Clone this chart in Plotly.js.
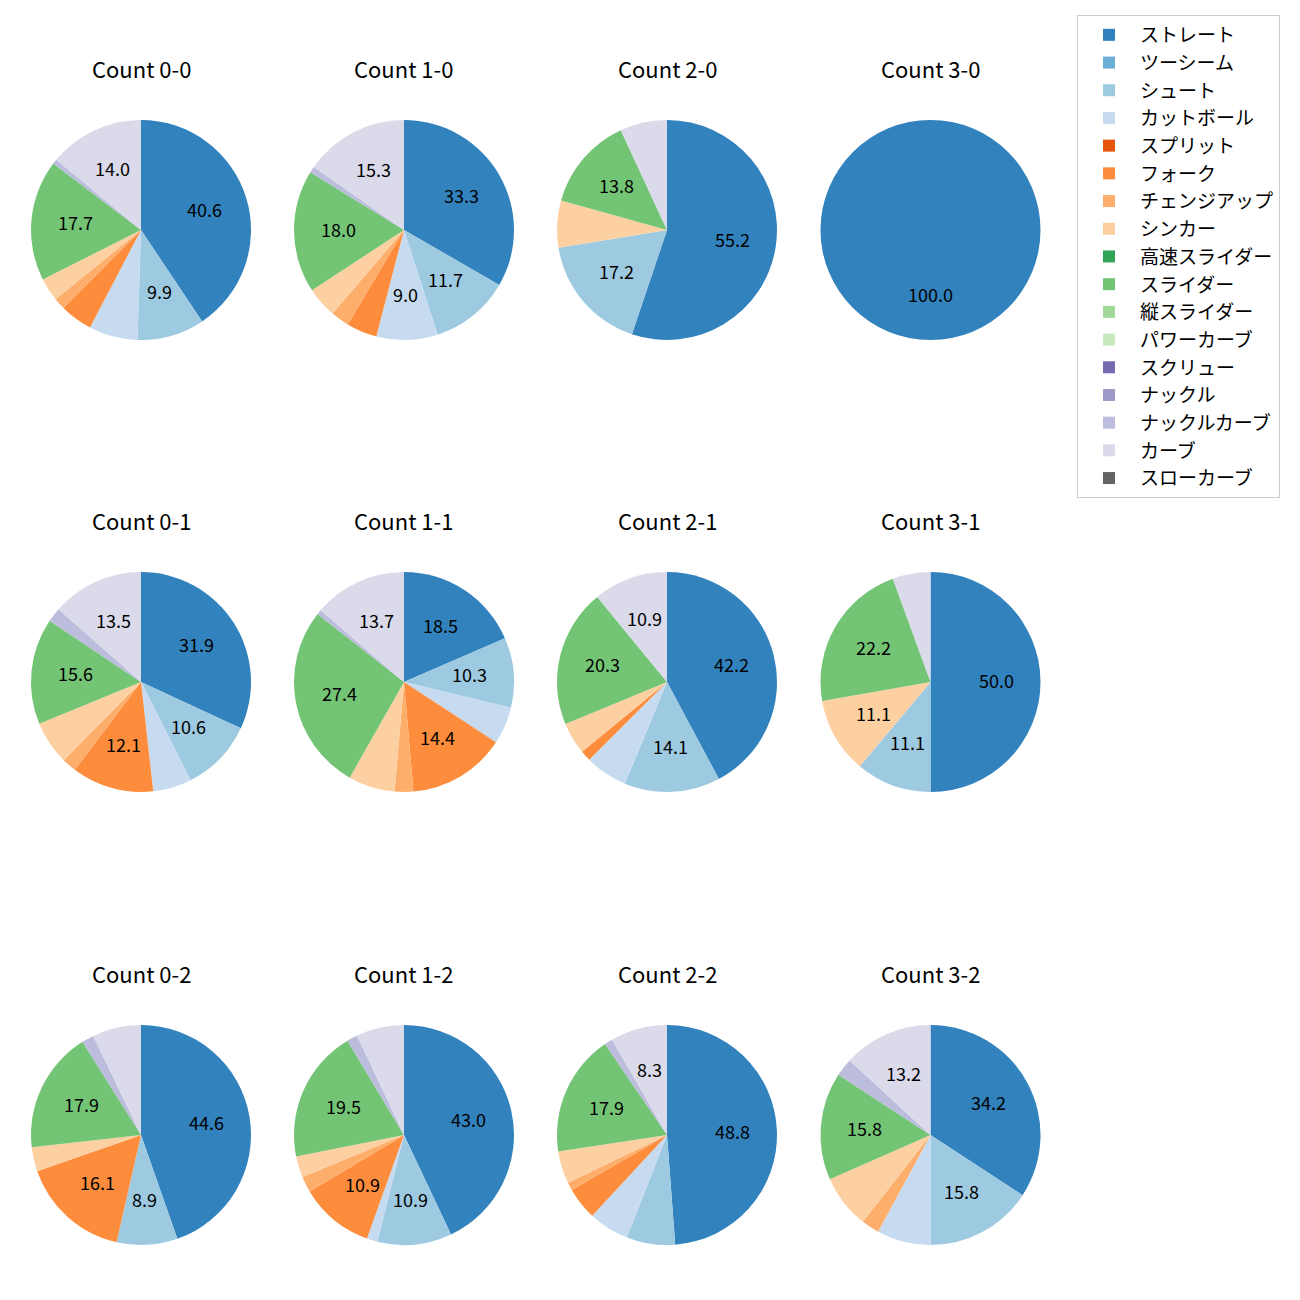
<!DOCTYPE html>
<html>
<head>
<meta charset="utf-8">
<script src="https://cdn.plot.ly/plotly-3.0.1.min.js"></script>
<style>html,body{margin:0;padding:0;background:#fff}</style>
</head>
<body>
<div id="chart" style="width:1300px;height:1300px"></div>
<script>
// pitch types (legend order)
const pitchTypes = ["ストレート","ツーシーム","シュート","カットボール","スプリット","フォーク","チェンジアップ","シンカー","高速スライダー","スライダー","縦スライダー","パワーカーブ","スクリュー","ナックル","ナックルカーブ","カーブ","スローカーブ"];
const pitchColors = ["#3182bd","#6baed6","#9ecae1","#c6dbef","#e6550d","#fd8d3c","#fdae6b","#fdd0a2","#31a354","#74c476","#a1d99b","#c7e9c0","#756bb1","#9e9ac8","#bcbddc","#dadaeb","#636363"];

// counts (balls-strikes)
const countLabels = ["Count 0-0","Count 1-0","Count 2-0","Count 3-0",
                     "Count 0-1","Count 1-1","Count 2-1","Count 3-1",
                     "Count 0-2","Count 1-2","Count 2-2","Count 3-2"];

// pitch counts per situation, in pitchTypes order
const c00 = [119,0,29,21,0,14,5,10,0,52,0,0,0,0,2,41,0];
const c10 = [37,0,13,10,0,5,3,5,0,20,0,0,0,0,1,17,0];
const c20 = [16,0,5,0,0,0,0,2,0,4,0,0,0,0,0,2,0];
const c30 = [3,0,0,0,0,0,0,0,0,0,0,0,0,0,0,0,0];
const c01 = [45,0,15,8,0,17,3,9,0,22,0,0,0,0,3,19,0];
const c11 = [27,0,15,8,0,21,4,10,0,40,0,0,0,0,1,20,0];
const c21 = [27,0,9,4,0,1,0,3,0,13,0,0,0,0,0,7,0];
const c31 = [9,0,2,0,0,0,0,2,0,4,0,0,0,0,0,1,0];
const c02 = [25,0,5,0,0,9,0,2,0,10,0,0,0,0,1,4,0];
const c12 = [55,0,14,2,0,14,3,4,0,25,0,0,0,0,2,9,0];
const c22 = [41,0,6,5,0,4,1,4,0,15,0,0,0,0,1,7,0];
const c32 = [13,0,6,3,0,0,1,3,0,6,0,0,0,0,1,5,0];
const allCounts = [c00,c10,c20,c30,c01,c11,c21,c31,c02,c12,c22,c32];

const W = 1300, H = 1300;
const colCenters = [141, 404, 667, 930.5];
const rowCenters = [230, 682, 1135];
const R = 110;
const FONT = "Noto Sans CJK JP, Noto Sans, sans-serif";

const traces = [];
const annotations = [];
allCounts.forEach((vals, k) => {
  const cx = colCenters[k % 4], cy = rowCenters[Math.floor(k / 4)];
  traces.push({
    type: "pie",
    labels: pitchTypes,
    values: vals,
    marker: {colors: pitchColors, line: {width: 0}},
    sort: false,
    direction: "clockwise",
    rotation: 0,
    textinfo: "none",
    hoverinfo: "label+percent",
    domain: {x: [(cx - R) / W, (cx + R) / W], y: [1 - (cy + R) / H, 1 - (cy - R) / H]},
    showlegend: true
  });
  annotations.push({
    text: countLabels[k], x: cx / W, y: 1 - (cy - R - 51) / H, yshift: 1,
    xref: "paper", yref: "paper", xanchor: "center", yanchor: "middle",
    showarrow: false, font: {family: FONT, size: 22, color: "#000"}
  });
  const total = vals.reduce((a, b) => a + b, 0);
  let cum = 0;
  vals.forEach(v => {
    const pct = v / total * 100;
    const mid = (cum + v / 2) / total * 2 * Math.PI;
    cum += v;
    if (pct >= 8) {
      annotations.push({
        text: pct.toFixed(1),
        x: (cx + 0.6 * R * Math.sin(mid)) / W,
        y: 1 - (cy - 0.6 * R * Math.cos(mid)) / H,
        yshift: 2,
        xref: "paper", yref: "paper", xanchor: "center", yanchor: "middle",
        showarrow: false, font: {family: FONT, size: 18, color: "#000"}
      });
    }
  });
});

const layout = {
  width: W, height: H,
  margin: {l: 0, r: 0, t: 0, b: 0},
  paper_bgcolor: "#fff",
  font: {family: FONT},
  annotations: annotations,
  legend: {
    x: 1077 / W, y: 1 - 15 / H, xanchor: "left", yanchor: "top",
    bordercolor: "#cccccc", borderwidth: 1, bgcolor: "#fff",
    font: {family: FONT, size: 19, color: "#000"},
    itemwidth: 52,
    traceorder: "normal"
  }
};

Plotly.newPlot("chart", traces, layout, {staticPlot: true});
</script>
</body>
</html>
